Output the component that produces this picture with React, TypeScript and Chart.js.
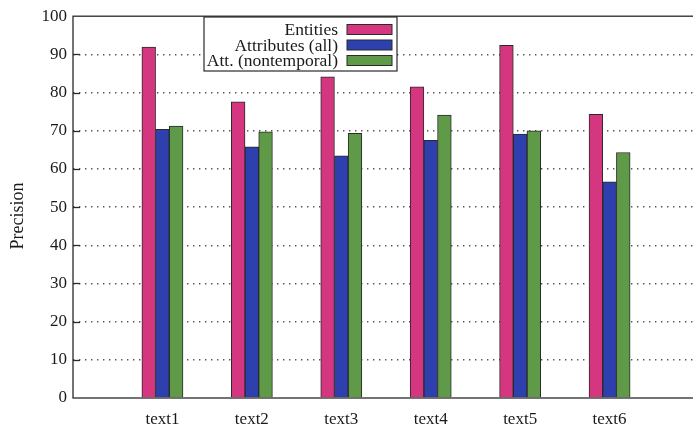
import React, { useEffect, useRef } from "react";
import { Chart, registerables } from "chart.js";

Chart.register(...registerables);

const categories = ["text1", "text2", "text3", "text4", "text5", "text6"];
const entities = [91.9, 77.6, 84.1, 81.5, 92.4, 74.3];
const attributesAll = [70.4, 65.8, 63.4, 67.5, 69.1, 56.6];
const attNonTemporal = [71.2, 69.7, 69.3, 74.1, 70.0, 64.3];
const seriesNames = ["Entities", "Attributes (all)", "Att. (nontemporal)"];
const seriesColors = ["#d4367f", "#2e3fae", "#5e9a47"];
const yMin = 0;
const yMax = 100;
const yStep = 10;
const yTitle = "Precision";

const FONT = "'Liberation Serif', 'DejaVu Serif', serif";
const INK = "#2a2a2a";

const framePlugin = {
  id: "gnuplotFrame",
  afterDatasetsDraw(chart: any) {
    const { ctx, chartArea, scales } = chart;
    const { left, top, right, bottom } = chartArea;
    const y = scales.y;
    ctx.save();
    // frame
    ctx.strokeStyle = INK;
    ctx.lineWidth = 1.3;
    ctx.strokeRect(left, top, right - left, bottom - top);
    // inner tick marks
    ctx.lineWidth = 1.3;
    for (let v = yMin + yStep; v < yMax; v += yStep) {
      const py = Math.round(y.getPixelForValue(v)) + 0.5;
      ctx.beginPath();
      ctx.moveTo(left, py);
      ctx.lineTo(left + 7, py);
      ctx.stroke();
    }
    // legend box
    const bx = 204, by = 17, bw = 193, bh = 54;
    ctx.fillStyle = "#ffffff";
    ctx.fillRect(bx, by, bw, bh);
    ctx.strokeStyle = INK;
    ctx.lineWidth = 1.2;
    ctx.strokeRect(bx, by, bw, bh);
    ctx.font = `17.5px ${FONT}`;
    ctx.textAlign = "right";
    ctx.textBaseline = "middle";
    for (let i = 0; i < seriesNames.length; i++) {
      const cy = 29.5 + i * 15.5;
      ctx.fillStyle = "#1a1a1a";
      ctx.fillText(seriesNames[i], 338, cy + 1);
      ctx.fillStyle = seriesColors[i];
      ctx.fillRect(347, cy - 5, 45, 10);
      ctx.strokeStyle = INK;
      ctx.lineWidth = 1;
      ctx.strokeRect(347, cy - 5, 45, 10);
    }
    // y title
    ctx.translate(18, 216);
    ctx.rotate(-Math.PI / 2);
    ctx.textAlign = "center";
    ctx.fillStyle = "#1a1a1a";
    ctx.font = `18px ${FONT}`;
    ctx.fillText(yTitle, 0, 0);
    ctx.restore();
  },
};

export default function App() {
  const ref = useRef<HTMLCanvasElement>(null);

  useEffect(() => {
    if (!ref.current) return;
    const labels = ["", ...categories, ""];
    const pad = (arr: number[]) => [null, ...arr, null];
    const seriesData = [entities, attributesAll, attNonTemporal];
    const chart = new Chart(ref.current, {
      type: "bar",
      data: {
        labels,
        datasets: seriesNames.map((name, i) => ({
          label: name,
          data: pad(seriesData[i]) as any,
          backgroundColor: seriesColors[i],
          borderColor: INK,
          borderWidth: 1,
        })),
      },
      options: {
        responsive: false,
        animation: false,
        devicePixelRatio: 1,
        layout: { padding: { top: 16, right: 11, left: 0, bottom: 0 } },
        datasets: { bar: { barThickness: 13.7 } as any },
        plugins: {
          legend: { display: false },
          tooltip: { enabled: false },
        },
        scales: {
          x: {
            type: "category",
            offset: false,
            grid: { display: false, drawTicks: false },
            border: { display: false },
            ticks: {
              autoSkip: false,
              maxRotation: 0,
              padding: 11,
              color: "#1a1a1a",
              font: { family: FONT, size: 17 },
            },
            afterFit: (s: any) => {
              s.height = 30;
            },
          },
          y: {
            min: yMin,
            max: yMax,
            ticks: {
              stepSize: yStep,
              padding: 6,
              color: "#1a1a1a",
              font: { family: FONT, size: 17 },
            },
            grid: {
              drawTicks: false,
              color: (c: any) =>
                c.tick && (c.tick.value === yMin || c.tick.value === yMax)
                  ? "rgba(0,0,0,0)"
                  : "#555555",
              lineWidth: 1.4,
            } as any,
            border: { display: false, dash: [1.4, 4.6] },
            afterFit: (s: any) => {
              s.width = 73;
            },
          },
        },
      },
      plugins: [framePlugin],
    });
    return () => chart.destroy();
  }, []);

  return (
    <div
      style={{
        position: "fixed",
        left: 0,
        top: 0,
        width: 693,
        height: 428,
        overflow: "hidden",
        background: "#ffffff",
      }}
    >
      <canvas ref={ref} width={710} height={428} style={{ display: "block" }} />
    </div>
  );
}
